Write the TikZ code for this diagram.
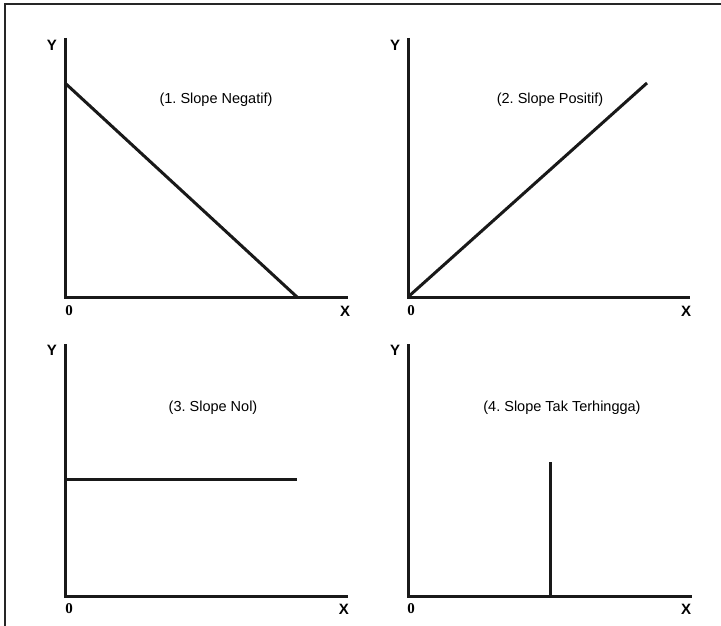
\documentclass[tikz,border=0pt]{standalone}
\usepackage{fontspec}
\setmainfont{Liberation Sans}
\newfontfamily\serifbold{Liberation Serif}
\frenchspacing
\begin{document}
\begin{tikzpicture}[x=1pt,y=-1pt,
  frameline/.style={line width=1.6pt, draw=black!85},
  axisline/.style={line width=3pt, draw=black!90},
  slopeline/.style={line width=3pt, draw=black!90},
  axlabel/.style={font=\bfseries\fontsize{15}{15}\selectfont, inner sep=0pt},
  origin/.style={font=\serifbold\bfseries\fontsize{15}{15}\selectfont, inner sep=0pt},
  title/.style={font=\fontsize{14.5}{14.5}\selectfont, inner sep=0pt}]
\useasboundingbox (0,0) rectangle (721,626);
\fill[white] (0,0) rectangle (721,626);
\coordinate (fb) at (5,626);
\coordinate (ftl) at (5,4);
\coordinate (ftr) at (721,4);
\draw[frameline] (fb) -- (ftl) -- (ftr);
% Panel 1
\coordinate (y1) at (65,38);
\coordinate (o1) at (65,297);
\coordinate (x1) at (348,297);
\coordinate (a1) at (65,83);
\coordinate (b1) at (297,297);
\draw[axisline] (y1) -- (o1) -- (x1);
\draw[slopeline] (a1) -- (b1);
\node[axlabel] (ly1) at (52,45) {Y};
\node[origin] (lo1) at (69,311) {0};
\node[axlabel] (lx1) at (345,311) {X};
\node[title] (t1) at (216,100) {(1. Slope Negatif)};
% Panel 2
\coordinate (y2) at (408,38);
\coordinate (o2) at (408,297);
\coordinate (x2) at (690,297);
\coordinate (b2) at (647,83);
\draw[axisline] (y2) -- (o2) -- (x2);
\draw[slopeline] (o2) -- (b2);
\node[axlabel] (ly2) at (395,45) {Y};
\node[origin] (lo2) at (411,311) {0};
\node[axlabel] (lx2) at (686,311) {X};
\node[title] (t2) at (550,100) {(2. Slope Positif)};
% Panel 3
\coordinate (y3) at (65,344);
\coordinate (o3) at (65,596);
\coordinate (x3) at (348,596);
\coordinate (a3) at (65,479);
\coordinate (b3) at (297,479);
\draw[axisline] (y3) -- (o3) -- (x3);
\draw[slopeline] (a3) -- (b3);
\node[axlabel] (ly3) at (52,350) {Y};
\node[origin] (lo3) at (69,609) {0};
\node[axlabel] (lx3) at (344,609) {X};
\node[title] (t3) at (213,408) {(3. Slope Nol)};
% Panel 4
\coordinate (y4) at (408,344);
\coordinate (o4) at (408,596);
\coordinate (x4) at (692,596);
\coordinate (a4) at (550,462);
\coordinate (b4) at (550,596);
\draw[axisline] (y4) -- (o4) -- (x4);
\draw[slopeline] (a4) -- (b4);
\node[axlabel] (ly4) at (395,350) {Y};
\node[origin] (lo4) at (411,609) {0};
\node[axlabel] (lx4) at (686,609) {X};
\node[title] (t4) at (562,408) {(4. Slope Tak Terhingga)};
\end{tikzpicture}
\end{document}
